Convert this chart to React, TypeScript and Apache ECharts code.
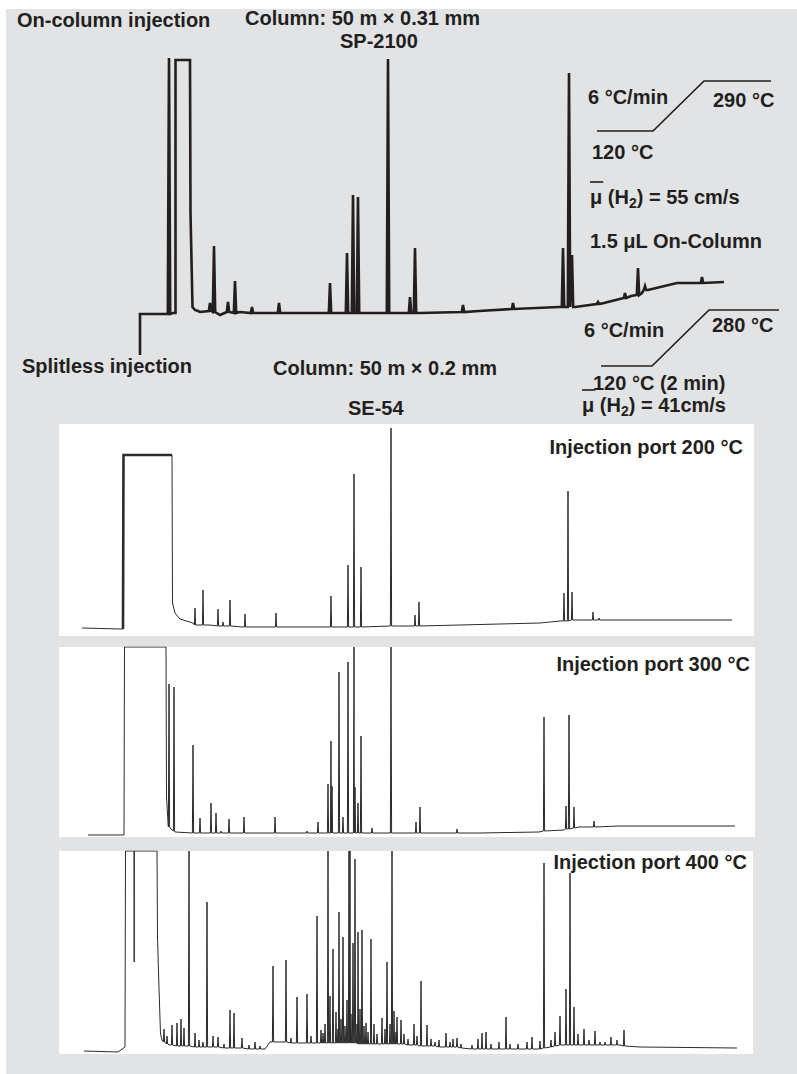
import React, { useEffect, useRef } from "react";
import * as echarts from "echarts";

// ---------- data (x = retention position, y = detector signal, arbitrary units) ----------
// Top trace: on-column vs splitless, SP-2100
const topKnots = [
  [81, 0], [81, 41], [107.5, 41], [114, 42], [116.5, 42], [116.5, 295], [131, 295], [131.5, 142],
  [133.5, 48], [136, 45], [139, 44], [141, 43], [161, 40], [181, 43], [198, 42], [310, 42], [345, 42],
  [361, 42], [420, 44], [500, 48], [516, 48], [545, 52], [572, 59], [583, 62], [589, 65], [618, 72],
  [640, 72], [665, 73],
];
const topPeaks = [
  [110, 297, 41], [151, 52, 44], [155, 109, 43], [169, 53, 43], [176, 74, 42], [193, 48, 42],
  [220, 52, 42], [271, 72, 42], [288, 102, 42], [294, 160, 42], [299, 158, 42], [329, 296, 42],
  [351, 58, 42], [356, 107, 42], [404, 50, 43], [454, 52, 46], [504, 107, 48], [510, 282, 48],
  [513, 100, 48], [539, 53, 51], [566, 62, 57], [579, 87, 60], [586, 69, 65], [643, 78, 72],
];

// Injection port 200 °C
const knots200 = [
  [23, 8], [62, 7], [64, 7], [64.5, 181], [113, 181], [113.5, 33], [116, 23], [121, 17], [134, 13],
  [151, 11], [184, 9], [268, 9], [361, 10], [481, 13], [501, 15], [518, 16], [673, 16],
];
const peaks200 = [
  [136, 28, 11], [144, 46, 11], [159, 27, 10], [164, 14, 10], [171, 36, 10], [186, 22, 9],
  [217, 23, 9], [272, 40, 9], [289, 71, 9], [295, 162, 9], [302, 69, 9], [332, 208, 10],
  [356, 21, 10], [360, 34, 10], [505, 43, 15], [509, 145, 15], [513, 44, 16], [534, 24, 16],
  [540, 18, 16],
];

// Injection port 300 °C
const knots300 = [
  [29, 2], [63, 2], [65, 2], [65.5, 190], [107, 190], [107.5, 40], [109, 15], [112, 8], [116, 5],
  [150, 4], [300, 4], [420, 4], [480, 5], [505, 7], [520, 10], [560, 11], [676, 11],
];
const peaks300 = [
  [110, 153, 10], [115, 150, 6], [134, 92, 4], [141, 19, 4], [152, 34, 4], [157, 24, 4],
  [162, 6, 4], [170, 18, 4], [185, 20, 4], [216, 20, 4], [248, 6, 4], [259, 15, 4], [269, 53, 4],
  [272, 96, 4], [273, 51, 4], [280, 165, 4], [284, 20, 4], [289, 175, 4], [295, 190, 4],
  [296, 50, 4], [299, 34, 4], [302, 101, 4], [313, 9, 4], [332, 190, 4], [357, 15, 4],
  [361, 30, 4], [398, 8, 4], [485, 120, 6], [507, 31, 8], [510, 122, 8], [515, 30, 9],
  [525, 10, 10], [535, 16, 10],
];

// Injection port 400 °C
const knots400 = [
  [25, 3], [59, 2], [66, 7], [66.5, 203], [75, 203], [75.2, 92], [75.4, 203], [98, 203],
  [98.5, 117], [100, 66], [101.5, 20], [103, 14], [111, 9], [181, 6], [206, 5], [211, 12],
  [241, 11], [300, 10], [360, 8], [421, 5], [481, 5], [501, 9], [561, 9], [581, 7], [678, 6],
];
const peaks400 = [
  [105, 25, 12], [108, 18, 10], [113, 29, 9], [118, 31, 8], [122, 35, 8], [125, 26, 8],
  [130, 203, 8], [136, 21, 7], [140, 14, 7], [144, 12, 7], [148, 152, 7], [154, 18, 7],
  [159, 17, 7], [165, 10, 6], [171, 44, 6], [175, 41, 6], [183, 16, 6], [190, 9, 5], [196, 12, 5],
  [201, 8, 5], [214, 88, 12], [227, 94, 12], [232, 16, 11], [238, 57, 11], [248, 60, 11],
  [252, 18, 11], [258, 138, 11], [262, 24, 11], [264, 21, 11], [266, 30, 11], [269, 203, 11],
  [271, 58, 11], [274, 105, 11], [277, 42, 11], [279, 25, 11], [280, 142, 11], [282, 35, 11],
  [284, 117, 11], [286, 28, 11], [288, 54, 11], [290, 203, 11], [291, 203, 11], [292, 40, 11],
  [294, 111, 11], [296, 195, 11], [298, 30, 11], [299, 122, 10], [301, 45, 10], [303, 124, 10],
  [305, 28, 10], [307, 31, 10], [309, 22, 10], [312, 115, 10], [315, 30, 10], [318, 20, 10],
  [323, 36, 10], [326, 25, 10], [328, 92, 10], [331, 30, 10], [333, 203, 10], [335, 43, 10],
  [337, 22, 10], [338, 37, 10], [342, 34, 10], [345, 20, 10], [349, 15, 9], [355, 30, 9],
  [358, 18, 9], [362, 73, 8], [368, 29, 8], [372, 15, 8], [376, 12, 8], [380, 14, 7],
  [387, 21, 7], [391, 12, 7], [394, 15, 7], [398, 16, 7], [402, 10, 6], [413, 9, 5],
  [419, 15, 5], [423, 21, 5], [427, 22, 5], [432, 10, 5], [440, 12, 5], [447, 37, 5],
  [451, 10, 5], [459, 10, 5], [468, 12, 5], [473, 17, 5], [481, 13, 5], [485, 191, 6],
  [492, 14, 7], [496, 22, 8], [501, 38, 9], [507, 65, 9], [511, 181, 9], [515, 47, 9],
  [519, 20, 9], [525, 25, 9], [530, 14, 9], [536, 23, 9], [541, 12, 9], [546, 12, 9],
  [552, 17, 9], [558, 14, 9], [565, 24, 8],
];

const panelTitles = ["Injection port 200 °C", "Injection port 300 °C", "Injection port 400 °C"];

// ---------- helpers ----------
function buildTrace(knots: number[][], peaks: number[][], hw: number): number[][] {
  const pts: number[][] = [];
  knots.forEach((k) => pts.push([k[0], k[1]]));
  peaks.forEach((p) => {
    pts.push([p[0] - hw, p[2]]);
    pts.push([p[0], p[1]]);
    pts.push([p[0] + hw, p[2]]);
  });
  pts.sort((a, b) => a[0] - b[0]);
  return pts;
}

const INK = "#231f20";
const FONT = "'Liberation Sans', Arial, Helvetica, sans-serif";

function measure(t: string, size: number): number {
  const c = document.createElement("canvas").getContext("2d");
  if (!c) return t.length * size * 0.55;
  c.font = `bold ${size}px ${FONT}`;
  return c.measureText(t).width;
}

function txt(t: string, x: number, y: number, align: string = "left", size: number = 20) {
  return {
    type: "text",
    x,
    y,
    z: 20,
    style: {
      text: t,
      fill: INK,
      fontSize: size,
      fontWeight: "bold",
      fontFamily: FONT,
      align,
      verticalAlign: "middle",
    },
  };
}

function muLabel(x: number, y: number, rest: string) {
  const w1 = measure("μ (H", 20);
  const w2 = measure("2", 14);
  const wMu = measure("μ", 20);
  return [
    txt("μ (H", x, y),
    txt("2", x + w1, y + 6, "left", 14),
    txt(rest, x + w1 + w2, y),
    {
      type: "line",
      z: 20,
      shape: { x1: x, y1: y - 15, x2: x + wMu + 1, y2: y - 15 },
      style: { stroke: INK, lineWidth: 1.6 },
    },
  ];
}

function poly(points: number[][]) {
  return {
    type: "polyline",
    z: 20,
    shape: { points },
    style: { stroke: INK, lineWidth: 1.7, fill: "none" },
  };
}

export default function App() {
  const ref = useRef<HTMLDivElement>(null);

  useEffect(() => {
    document.body.style.margin = "0";
    if (!ref.current) return;
    const chart = echarts.init(ref.current, undefined, { renderer: "svg" });

    const grids = [
      { left: 59, top: 58, width: 695, height: 297 },
      { left: 59, top: 424, width: 695, height: 212 },
      { left: 59, top: 647, width: 696, height: 190 },
      { left: 59, top: 851, width: 694, height: 203 },
    ];

    const traces = [
      buildTrace(topKnots, topPeaks, 1.2),
      buildTrace(knots200, peaks200, 0.6),
      buildTrace(knots300, peaks300, 0.6),
      buildTrace(knots400, peaks400, 0.6),
    ];

    const graphic: any[] = [
      txt("On-column injection", 17, 20),
      txt("Column: 50 m × 0.31 mm", 245, 18),
      txt("SP-2100", 340, 41),
      txt("6 °C/min", 588, 97),
      txt("290 °C", 713, 100),
      txt("120 °C", 592, 152),
      ...muLabel(590, 197, ") = 55 cm/s"),
      txt("1.5 μL On-Column", 590, 241),
      txt("Splitless injection", 22, 366),
      txt("Column: 50 m × 0.2 mm", 273, 368),
      txt("SE-54", 348, 408),
      txt("6 °C/min", 584, 330),
      txt("280 °C", 712, 325),
      txt("120 °C (2 min)", 593, 383),
      ...muLabel(582, 405, ") = 41cm/s"),
      poly([[597, 131], [653, 131], [704, 81], [771, 81]]),
      poly([[601, 366], [652, 366], [709, 310], [779, 310]]),
      txt(panelTitles[0], 743, 447, "right"),
      txt(panelTitles[1], 750, 664, "right"),
      txt(panelTitles[2], 747, 862, "right"),
    ];

    const series: any[] = traces.map((d, i) => ({
      type: "line",
      xAxisIndex: i,
      yAxisIndex: i,
      data: d,
      symbol: "none",
      showSymbol: false,
      clip: i > 0,
      silent: true,
      lineStyle: {
        color: i === 0 ? INK : "#2b2b2b",
        width: i === 0 ? 2.6 : 1,
        join: "miter",
      },
      z: 5,
    }));
    // the overloaded solvent plateau in the 200 °C run is printed heavier
    series.push({
      type: "line",
      xAxisIndex: 1,
      yAxisIndex: 1,
      data: knots200.slice(2, 5),
      symbol: "none",
      showSymbol: false,
      silent: true,
      lineStyle: { color: "#2b2b2b", width: 2.6, join: "miter" },
      z: 6,
    });

    chart.setOption({
      animation: false,
      backgroundColor: "transparent",
      grid: grids.map((g, i) => ({
        ...g,
        show: i > 0,
        backgroundColor: "#ffffff",
        borderWidth: 0,
        borderColor: "transparent",
        containLabel: false,
      })),
      xAxis: grids.map((g, i) => ({ type: "value", gridIndex: i, min: 0, max: g.width, show: false })),
      yAxis: grids.map((g, i) => ({ type: "value", gridIndex: i, min: 0, max: g.height, show: false })),
      series,
      graphic,
    });

    return () => chart.dispose();
  }, []);

  return (
    <div style={{ position: "relative", width: 797, height: 1074, background: "#ffffff", overflow: "hidden" }}>
      <div style={{ position: "absolute", left: 6, top: 9, width: 791, height: 1065, background: "#e2e3e5" }} />
      <div ref={ref} style={{ position: "absolute", left: 0, top: 0, width: 797, height: 1074 }} />
    </div>
  );
}
